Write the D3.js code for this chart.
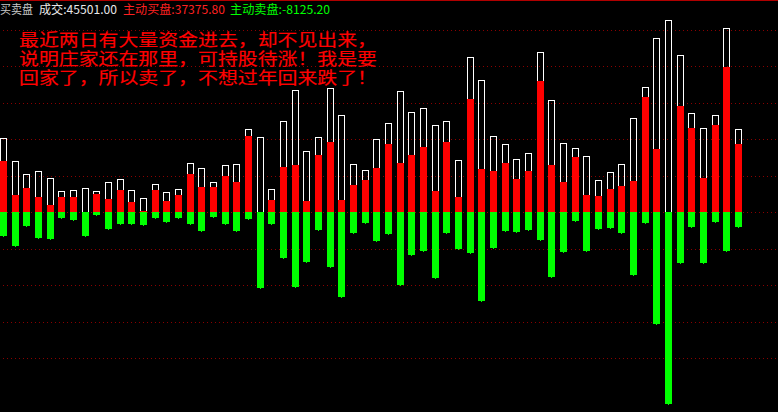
<!DOCTYPE html>
<html><head><meta charset="utf-8">
<script src="https://cdn.jsdelivr.net/npm/d3@7/dist/d3.min.js"></script>
<style>html,body{margin:0;padding:0;background:#000;overflow:hidden}svg{display:block}</style>
</head><body>
<script>
// ---- data ----
const totalVol = [40600,28000,20900,22500,18700,11500,12100,13200,11500,16500,18100,12100,7700,15400,11000,12600,26900,24100,16500,25800,26300,45500,41400,12600,49900,67000,33500,41200,68100,53200,26300,23000,40100,48800,66400,54900,57100,47700,49900,28500,85100,72400,41700,37300,29100,32400,87800,61500,37900,35100,30700,17600,22000,26300,51600,68600,95500,105400,86200,54300,46100,53200,101000,45501];
const buyVol = [28000,9300,13200,8200,3800,8200,8200,0,9900,7100,12100,5500,500,12100,6000,9300,20900,13700,13700,19800,16500,41700,0,6600,24700,25800,6000,31300,38400,6600,14800,17600,24100,37300,26900,31300,35700,11500,38400,8200,62000,23600,22500,26900,18100,22500,71900,25800,16500,30200,9300,8800,12600,14300,17000,63100,34600,0,58200,46100,18700,47700,79600,37375.8];
const sellVol = [-13200,-18700,-7700,-14300,-14800,-3300,-4400,-13200,-1600,-9300,-6600,-6600,-7100,-3300,-5500,-3300,-6600,-10400,-2700,-6600,-10400,-3800,-41700,-6600,-25200,-41200,-27400,-9900,-30200,-46600,-11500,-6000,-15900,-12100,-40100,-23600,-21400,-36200,-11500,-20300,-22500,-48800,-19800,-10400,-11000,-9900,-15400,-35700,-22000,-4900,-21400,-9300,-8800,-11500,-34600,-6000,-61500,-105400,-28000,-8200,-28000,-5500,-21400,-8125.2];
const gridTicks = [100000,80000,60000,40000,20000,0,-20000,-40000,-60000,-80000];
const headerParts = [
  {text:"买卖盘", color:"#c8c8c8"},
  {text:"成交:45501.00", color:"#e8e8e8"},
  {text:"主动买盘:37375.80", color:"#ff2020"},
  {text:"主动卖盘:-8125.20", color:"#00ff00"}
];
const noteLines = ["最近两日有大量资金进去，却不见出来，","说明庄家还在那里，可持股待涨！我是要","回家了，所以卖了，不想过年回来跌了！"];

// ---- layout ----
const W = 778, H = 412;
const svg = d3.select("body").append("svg").attr("width", W).attr("height", H)
  .style("background", "#000");
svg.append("rect").attr("width", W).attr("height", H).attr("fill", "#000");

const idx = d3.range(totalVol.length);
const step = 35/3;
const x = d3.scaleBand().domain(idx).range([0, step * idx.length])
  .paddingInner(0.4).paddingOuter(0.2).align(0);
const y = d3.scaleLinear().domain([100000, -80000]).range([30, 358]);
const py = v => Math.round(y(v));
const y0 = py(0);
const bw = Math.round(x.bandwidth());

// top border line
svg.append("line").attr("x1", 0).attr("x2", W).attr("y1", 0.5).attr("y2", 0.5)
  .attr("stroke", "#b00000").attr("stroke-width", 1);

// dotted grid
svg.append("g").selectAll("line").data(gridTicks).join("line")
  .attr("x1", 3).attr("x2", W).attr("y1", d => py(d) + 0.5).attr("y2", d => py(d) + 0.5)
  .attr("stroke", "#8a0000").attr("stroke-width", 1).attr("stroke-dasharray", "1,3")
  .attr("shape-rendering", "crispEdges");

const bars = svg.append("g").attr("shape-rendering", "crispEdges");
// outline (total)
bars.selectAll("rect.tot").data(idx).join("rect").attr("class", "tot")
  .attr("x", i => Math.round(x(i)) + 0.5)
  .attr("y", i => py(totalVol[i]) + 0.5)
  .attr("width", bw - 1)
  .attr("height", i => y0 - py(totalVol[i]))
  .attr("fill", "none").attr("stroke", "#fff").attr("stroke-width", 1);
// buy (red)
bars.selectAll("rect.buy").data(idx).join("rect").attr("class", "buy")
  .attr("x", i => Math.round(x(i)))
  .attr("y", i => py(buyVol[i]))
  .attr("width", bw)
  .attr("height", i => y0 - py(buyVol[i]))
  .attr("fill", "#ff0000");
// sell (green)
bars.selectAll("rect.sell").data(idx).join("rect").attr("class", "sell")
  .attr("x", i => Math.round(x(i)))
  .attr("y", y0)
  .attr("width", bw)
  .attr("height", i => py(sellVol[i]) - y0)
  .attr("fill", "#00ff00");
bars.selectAll("rect.nub").data(idx).join("rect").attr("class", "nub")
  .attr("x", i => Math.round(x(i)) + 3)
  .attr("y", i => py(sellVol[i]))
  .attr("width", 1).attr("height", 1)
  .attr("fill", "#00ff00");

// header
const hx = [0, 39, 123, 230], hw = [33, 78, 102, 100];
svg.append("rect").attr("x", 0).attr("y", 1).attr("width", 335).attr("height", 16).attr("fill", "#000");
svg.append("g").selectAll("text").data(headerParts).join("text")
  .attr("x", (d, i) => hx[i]).attr("y", 14)
  .attr("textLength", (d, i) => hw[i]).attr("lengthAdjust", "spacingAndGlyphs")
  .attr("fill", d => d.color)
  .style("font-family", "'Noto Sans CJK SC', 'DejaVu Sans', sans-serif")
  .style("font-size", "12px")
  .text(d => d.text);

// annotation
const noteY = [45.5, 64.5, 84];
svg.append("g").selectAll("text").data(noteLines).join("text")
  .attr("x", 19).attr("y", (d, i) => noteY[i])
  .attr("textLength", 358).attr("lengthAdjust", "spacingAndGlyphs")
  .attr("fill", "#ff0000").attr("stroke", "#ff0000").attr("stroke-width", 0.15)
  .style("font-family", "'Noto Sans CJK SC', sans-serif")
  .style("font-size", "16.5px")
  .text(d => d);
</script>
</body></html>
